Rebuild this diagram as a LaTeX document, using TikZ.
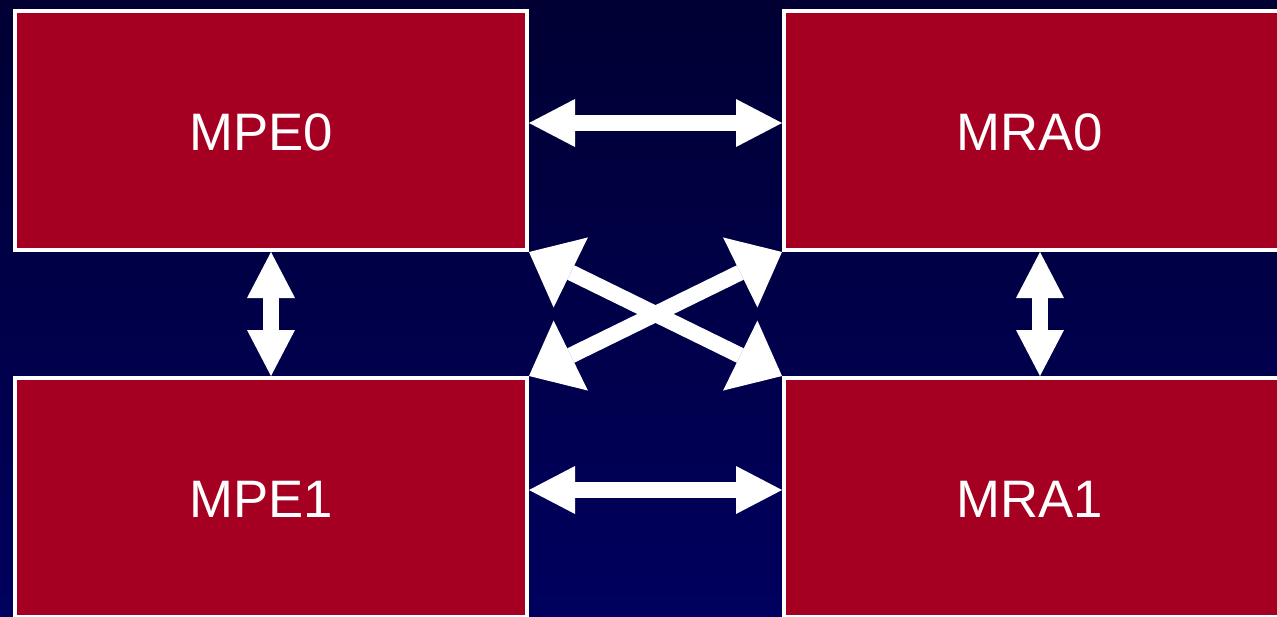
\documentclass[tikz,border=0pt]{standalone}
\usepackage{fontspec}
\setmainfont{Liberation Sans}
\usetikzlibrary{arrows.meta}
\definecolor{boxred}{HTML}{A50021}
\definecolor{navytop}{HTML}{000033}
\definecolor{navybot}{HTML}{00005E}
\begin{document}
\begin{tikzpicture}[
  unit/.style={draw=white, line width=0.08cm, fill=boxred, minimum width=10.24cm, minimum height=4.78cm},
  txt/.style={text=white, font=\fontsize{30}{36}\selectfont, xshift=-0.2cm, yshift=-0.04cm},
  link/.style={draw=white, line width=0.32cm,
    {Triangle[length=0.92cm, width=0.96cm, line width=0pt 0]}-{Triangle[length=0.92cm, width=0.96cm, line width=0pt 0]}},
  crosslink/.style={draw=white, line width=0.32cm,
    {Triangle[length=0.93cm, width=1.56cm, line width=0pt 0]}-{Triangle[length=0.93cm, width=1.56cm, line width=0pt 0]}}
]
\useasboundingbox (0,0) rectangle (25.54,-12.32);
\shade[top color=navytop, bottom color=navybot] (0,0) rectangle (25.54,-12.32);
\node[unit, label={[txt]center:MPE0}] (mpe0) at (5.42,-2.61) {};
\node[unit, label={[txt]center:MRA0}] (mra0) at (20.80,-2.61) {};
\node[unit, label={[txt]center:MPE1}] (mpe1) at (5.42,-9.95) {};
\node[unit, label={[txt]center:MRA1}] (mra1) at (20.80,-9.95) {};
\draw[link] ([yshift=0.15cm]mpe0.east) -- ([yshift=0.15cm]mra0.west);
\draw[link] ([yshift=0.15cm]mpe1.east) -- ([yshift=0.15cm]mra1.west);
\draw[link] (mpe0.south) -- (mpe1.north);
\draw[link] (mra0.south) -- (mra1.north);
\draw[crosslink] (mpe0.south east) -- (mra1.north west);
\draw[crosslink] (mra0.south west) -- (mpe1.north east);
\end{tikzpicture}
\end{document}
